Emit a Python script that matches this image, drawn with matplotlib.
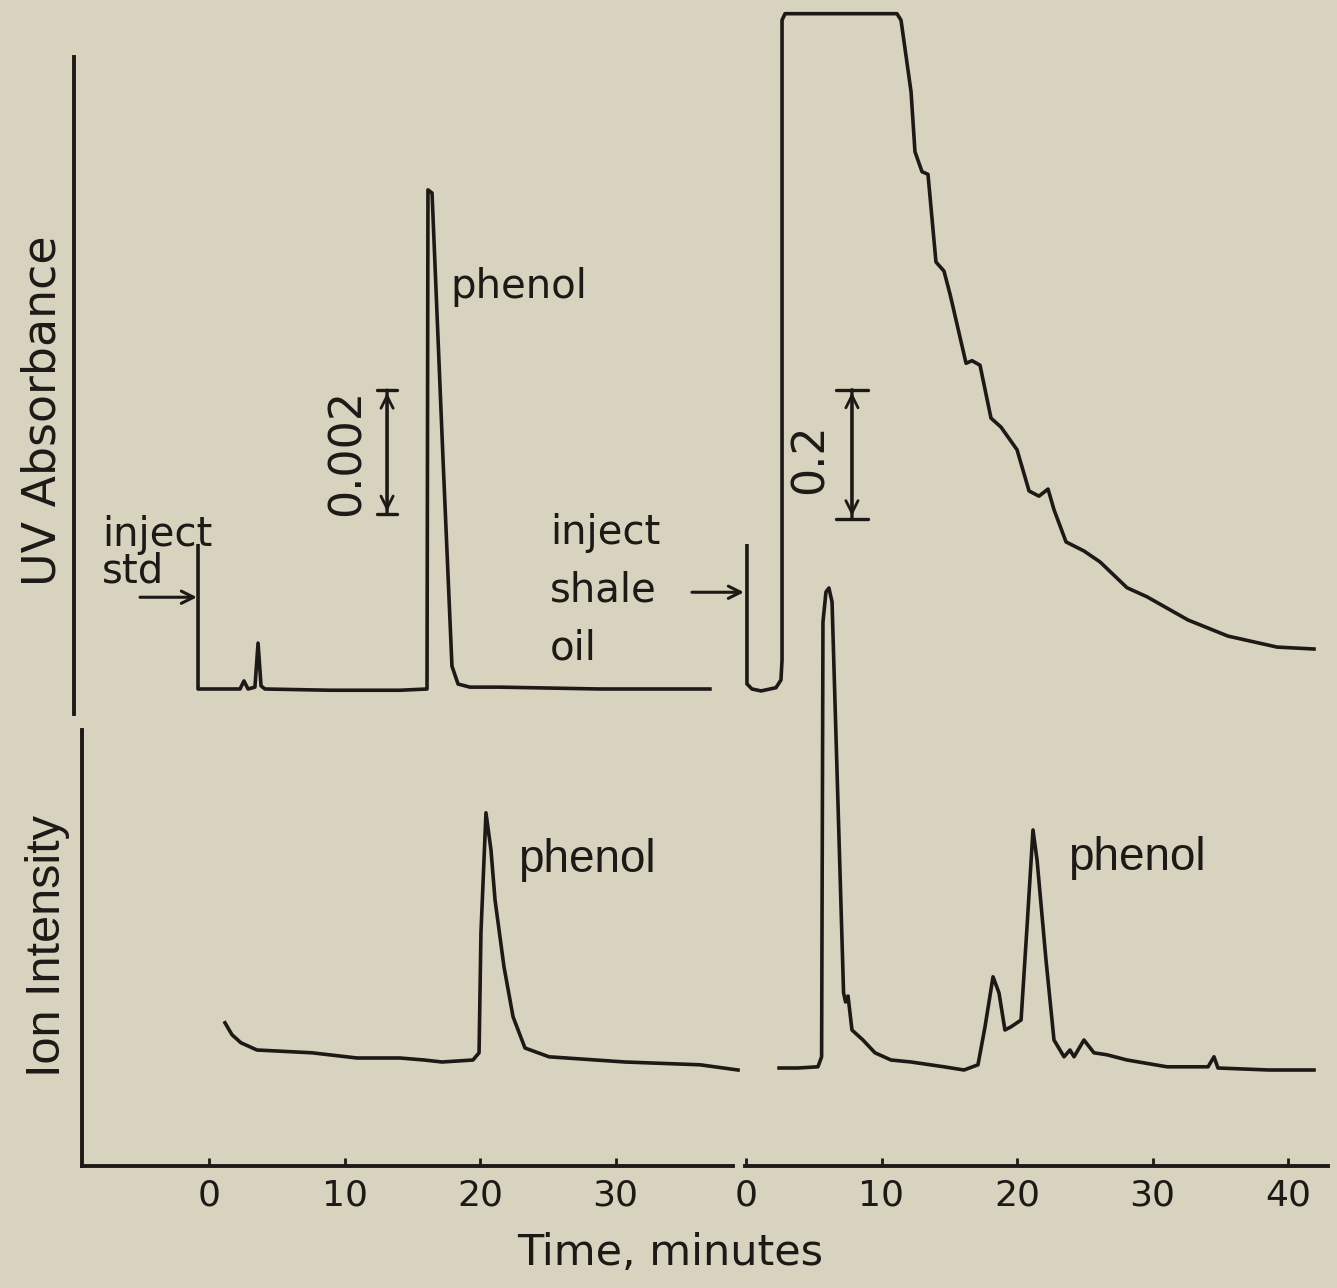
import matplotlib.pyplot as plt

# ---- values ----
# UV absorbance, phenol standard (time in min, absorbance units)
uv_std_time = [-0.81, -0.81, 2.29, 2.58, 2.88, 3.39, 3.62, 3.84, 4.13, 8.93,
               14.10, 16.09, 16.16, 16.46, 17.27, 17.93, 18.38, 19.26, 21.48,
               28.86, 36.97]
uv_std_abs = [0.00231, 0.0, 0.0, 0.00013, 0.0, 0.00003, 0.00074, 0.00005, 0.0,
              -0.00002, -0.00002, 0.0, 0.00805, 0.00800, 0.00371, 0.00037,
              0.00008, 0.00003, 0.00003, 0.0, 0.0]

# UV absorbance, shale oil (off scale at the top)
uv_oil_time = [0.07, 0.07, 0.44, 1.11, 2.21, 2.58, 2.66, 2.66, 2.88, 11.14,
               11.44, 12.18, 12.47, 12.99, 13.43, 14.02, 14.61, 15.06, 16.24,
               16.68, 17.27, 18.08, 18.82, 20.00, 20.89, 21.62, 22.29, 22.73,
               23.62, 24.94, 26.13, 28.12, 29.59, 32.62, 35.57, 39.19, 41.92]
uv_oil_abs = [0.222, 0.008, 0.0, -0.003, 0.002, 0.014, 0.045, 1.037, 1.047,
              1.047, 1.037, 0.926, 0.833, 0.802, 0.798, 0.662, 0.648, 0.612,
              0.505, 0.509, 0.502, 0.420, 0.406, 0.371, 0.307, 0.299, 0.310,
              0.278, 0.228, 0.214, 0.197, 0.157, 0.143, 0.107, 0.082, 0.065,
              0.062]

# ion intensity (arbitrary units), phenol standard
ion_std_time = [1.18, 1.70, 2.36, 3.54, 7.60, 10.92, 14.10, 15.87, 17.20,
                19.48, 19.93, 20.07, 20.44, 20.81, 21.11, 21.77, 22.44, 23.32,
                25.09, 30.70, 36.24, 39.04]
ion_std_int = [35.8, 32.8, 30.8, 29.0, 28.3, 27.0, 27.0, 26.5, 26.0, 26.5,
               28.3, 58.3, 88.3, 79.0, 66.5, 49.8, 37.3, 29.5, 27.3, 26.0,
               25.3, 24.0]

# ion intensity (arbitrary units), shale oil
ion_oil_time = [2.44, 3.84, 5.31, 5.58, 5.68, 5.90, 6.12, 6.35, 7.20, 7.35,
                7.53, 7.82, 8.63, 9.52, 10.70, 12.18, 14.61, 16.09, 17.12,
                17.64, 18.23, 18.67, 19.11, 19.56, 20.30, 20.74, 21.18, 21.48,
                22.14, 22.73, 23.47, 23.91, 24.21, 24.94, 25.68, 26.64, 28.12,
                31.07, 34.10, 34.54, 34.83, 38.60, 41.92]
ion_oil_int = [24.5, 24.5, 24.8, 27.3, 136.0, 143.5, 144.5, 141.0, 43.3, 41.0,
               42.5, 34.0, 31.5, 28.3, 26.5, 26.0, 24.8, 24.0, 25.3, 34.8,
               47.3, 43.3, 34.0, 34.8, 36.5, 59.8, 84.0, 76.5, 51.5, 31.5,
               27.3, 29.0, 27.3, 31.5, 28.3, 27.8, 26.5, 24.8, 24.8, 27.3,
               24.5, 24.0, 24.0]

std_ticks = [0, 10, 20, 30]
oil_ticks = [0, 10, 20, 30, 40]

# ---- page layout (pixels of the scan) ----
W, H = 1337, 1288
PPM = 13.55            # px per minute
STD0, OIL0 = 209, 746  # x of t = 0
UV_BASE = 689          # y of zero absorbance
UV_STD_SCALE = 62000   # px per absorbance unit (0.002 bar)
UV_OIL_SCALE = 645     # px per absorbance unit (0.2 bar)
ION_BASE, ION_SCALE = 1166, 4.0

ink = '#1c1917'
paper = '#d8d3be'
round_font = 'DejaVu Sans'
plain_font = 'Liberation Sans'

fig = plt.figure(figsize=(W / 100, H / 100), dpi=100, facecolor=paper)


def place(x0, x1, y0, y1):
    ax = fig.add_axes([x0 / W, 1 - y1 / H, (x1 - x0) / W, (y1 - y0) / H])
    ax.patch.set_visible(False)
    for s in ax.spines.values():
        s.set_visible(False)
        s.set_linewidth(2.8)
        s.set_color(ink)
    ax.set_xticks([])
    ax.set_yticks([])
    zero = STD0 if x0 < 700 else OIL0
    ax.set_xlim((x0 - zero) / PPM, (x1 - zero) / PPM)
    return ax


ax_uv_std = place(74, 733, 0, 714)
ax_uv_std.set_ylim((UV_BASE - 714) / UV_STD_SCALE, UV_BASE / UV_STD_SCALE)
ax_uv_oil = place(745, 1330, 0, 714)
ax_uv_oil.set_ylim((UV_BASE - 714) / UV_OIL_SCALE, UV_BASE / UV_OIL_SCALE)
ax_ion_std = place(82, 733, 560, 1166)
ax_ion_oil = place(745, 1328, 560, 1166)
for ax in (ax_ion_std, ax_ion_oil):
    ax.set_ylim(0, (ION_BASE - 560) / ION_SCALE)

# axis lines
ax_uv_std.spines['left'].set_visible(True)
ax_uv_std.spines['left'].set_bounds((UV_BASE - 714) / UV_STD_SCALE,
                                    (UV_BASE - 57) / UV_STD_SCALE)
ax_ion_std.spines['left'].set_visible(True)
ax_ion_std.spines['left'].set_bounds(0, (ION_BASE - 730) / ION_SCALE)
for ax, ticks in ((ax_ion_std, std_ticks), (ax_ion_oil, oil_ticks)):
    ax.spines['bottom'].set_visible(True)
    ax.set_xticks(ticks)
    ax.set_xticklabels([str(t) for t in ticks])
    ax.tick_params(axis='x', direction='in', length=6, width=2, color=ink,
                   pad=9, labelsize=26, labelcolor=ink)
    for lab in ax.get_xticklabels():
        lab.set_family(round_font)

# traces
kw = dict(color=ink, lw=2.6, clip_on=False, solid_joinstyle='round')
ax_uv_std.plot(uv_std_time, uv_std_abs, **kw)
ax_uv_oil.plot(uv_oil_time, uv_oil_abs, **kw)
ax_ion_std.plot(ion_std_time, ion_std_int, **kw)
ax_ion_oil.plot(ion_oil_time, ion_oil_int, **kw)

# labels
fig.text(43 / W, 1 - 411 / H, 'UV Absorbance', rotation=90, ha='center',
         va='center', fontsize=33, family=round_font, color=ink)
fig.text(47 / W, 1 - 946 / H, 'Ion Intensity', rotation=90, ha='center',
         va='center', fontsize=35, family=plain_font, color=ink)
fig.text(670 / W, 1 - 1253 / H, 'Time, minutes', ha='center', va='center',
         fontsize=31, family=round_font, color=ink)

tkw = dict(fontsize=29, family=round_font, color=ink, ha='left',
           va='baseline')
ax_uv_std.text(-7.90, 0.00231, 'inject', **tkw)
ax_uv_std.text(-7.90, 0.00171, 'std', **tkw)
ax_uv_std.text(17.79, 0.00631, 'phenol', **tkw)
ax_uv_oil.text(-14.46, 0.225, 'inject', **tkw)
ax_uv_oil.text(-14.46, 0.135, 'shale', **tkw)
ax_uv_oil.text(-14.46, 0.045, 'oil', **tkw)

pkw = dict(fontsize=33, family=plain_font, color=ink, ha='left',
           va='baseline')
ax_ion_std.text(22.80, 73.5, 'phenol', **pkw)
ax_ion_oil.text(23.76, 74.0, 'phenol', **pkw)

# injection arrows
akw = dict(arrowstyle='->', lw=2.2, color=ink, mutation_scale=22,
           shrinkA=0, shrinkB=0)
ax_uv_std.annotate('', xy=(-0.89, 0.00148), xytext=(-5.09, 0.00148),
                   arrowprops=akw, annotation_clip=False)
ax_uv_oil.annotate('', xy=(-0.15, 0.150), xytext=(-3.99, 0.150),
                   arrowprops=akw, annotation_clip=False)

# absorbance scale bars
for ax, x, y0, span, label, lx, ly, cap in (
        (ax_uv_std, 13.14, 0.00282, 0.002, '0.002', 10.18, 0.00382, 0.24),
        (ax_uv_oil, 7.82, 0.264, 0.2, '0.2', 4.72, 0.357, 0.38)):
    ax.annotate('', xy=(x, y0 + span), xytext=(x, y0),
                arrowprops=dict(arrowstyle=f'|-|, widthA={cap}, widthB={cap}',
                                lw=2.4, color=ink, mutation_scale=30,
                                shrinkA=0, shrinkB=0),
                annotation_clip=False)
    ax.annotate('', xy=(x, y0 + span), xytext=(x, y0),
                arrowprops=dict(arrowstyle='<->', lw=2.0, color=ink,
                                mutation_scale=22, shrinkA=2, shrinkB=2),
                annotation_clip=False)
    ax.text(lx, ly, label, rotation=90, ha='center', va='center',
            fontsize=32, family=round_font, color=ink)

fig.savefig('out.png', dpi=100, facecolor=paper)
